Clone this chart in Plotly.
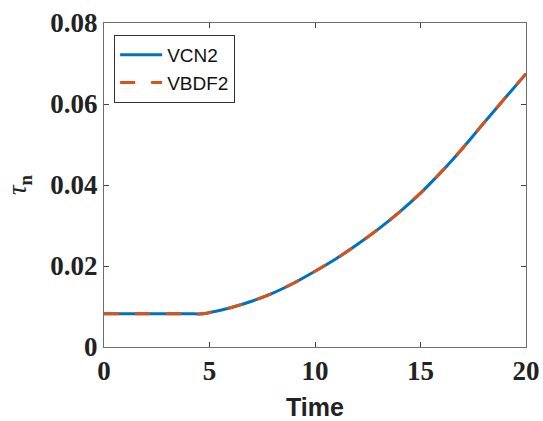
import plotly.graph_objects as go

time = [0, 1, 2, 3, 4, 4.7, 5, 6, 7, 8, 9, 10, 11, 12, 13, 14, 15, 16, 17, 18, 19, 20]
tau_vcn2 = [0.0082, 0.0082, 0.0082, 0.0082, 0.0082, 0.0082, 0.0085, 0.0097, 0.0113, 0.0133,
            0.0158, 0.0187, 0.0218, 0.0253, 0.0291, 0.0333, 0.0380, 0.0433, 0.0491, 0.0553,
            0.0614, 0.0675]
tau_vbdf2 = [0.0082, 0.0082, 0.0082, 0.0082, 0.0082, 0.0082, 0.0085, 0.0097, 0.0113, 0.0133,
             0.0158, 0.0187, 0.0218, 0.0253, 0.0291, 0.0333, 0.0380, 0.0433, 0.0491, 0.0553,
             0.0614, 0.0675]
x_ticks = [0, 5, 10, 15, 20]
y_ticks = [0, 0.02, 0.04, 0.06, 0.08]
y_tick_labels = ["0", "0.02", "0.04", "0.06", "0.08"]

fig = go.Figure()
fig.add_trace(go.Scatter(x=time, y=tau_vcn2, mode="lines", name="VCN2",
                         line=dict(color="#0072BD", width=3, shape="spline", smoothing=0.8)))
fig.add_trace(go.Scatter(x=time, y=tau_vbdf2, mode="lines", name="VBDF2",
                         line=dict(color="#D95319", width=3, dash="15px,16px", shape="spline", smoothing=0.8)))

axis_common = dict(showgrid=False, zeroline=False, showline=True, linecolor="#6e6e6e", linewidth=1,
                   mirror="ticks", ticks="inside", ticklen=5, tickwidth=1, tickcolor="#404040",
                   automargin=False,
                   tickfont=dict(family="Liberation Serif", size=27, color="#222222"))

fig.update_layout(
    width=543, height=421,
    margin=dict(l=104, r=17, t=23, b=74),
    plot_bgcolor="white", paper_bgcolor="white",
    showlegend=True,
    legend=dict(x=0.024, y=0.963, xanchor="left", yanchor="top",
                bgcolor="white", bordercolor="#333333", borderwidth=1,
                font=dict(family="Liberation Sans", size=19, color="#111111"),
                tracegroupgap=0, itemwidth=42),
    xaxis=dict(range=[0, 20], tickvals=x_ticks, ticktext=[f"<b>{v}</b>" for v in x_ticks],
               title=dict(text="<b>Time</b>", font=dict(family="Liberation Sans", size=25, color="#222222")),
               **axis_common),
    yaxis=dict(range=[0, 0.08], tickvals=y_ticks, ticktext=[f"<b>{t}</b>" for t in y_tick_labels],
               title=dict(text="<i>τ</i><sub><b>n</b></sub>", font=dict(family="Liberation Serif", size=27, color="#222222")),
               **axis_common),
)

fig.write_html("out.html", config={"displayModeBar": False},
               post_script="document.body.style.margin='0';")
